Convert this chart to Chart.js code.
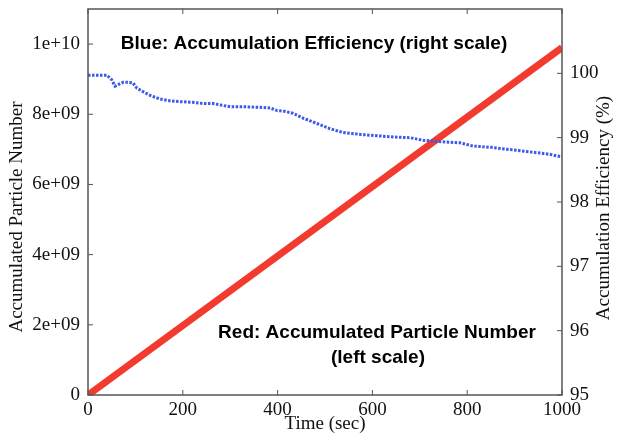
<!DOCTYPE html>
<html>
<head>
<meta charset="utf-8">
<script src="https://cdn.jsdelivr.net/npm/chart.js@4/dist/chart.umd.min.js"></script>
<style>
  html, body { margin: 0; padding: 0; background: #fff; }
  #wrap { width: 618px; height: 437px; }
</style>
</head>
<body>
<div id="wrap"><canvas id="chart"></canvas></div>
<script>
// accumulated particle number (left scale)
let redTime = [0, 1000];
let redCount = [0, 9.9e9];

// accumulation efficiency in % (right scale)
let blueTime = [0, 20, 40, 50, 57, 65, 74, 85, 95, 103, 115, 130, 152, 175, 194, 220, 245, 264, 285, 300,
  330, 369, 385, 399, 415, 432, 455, 483, 510, 538, 575, 610, 645, 679, 707, 740, 785, 812, 850, 884,
  920, 954, 975, 1000];
let blueEff = [99.97, 99.97, 99.97, 99.9, 99.8, 99.83, 99.86, 99.86, 99.85, 99.77, 99.72, 99.66, 99.6, 99.57,
  99.56, 99.55, 99.53, 99.53, 99.5, 99.48, 99.48, 99.47, 99.46, 99.42, 99.41, 99.38, 99.3, 99.22, 99.14,
  99.08, 99.05, 99.03, 99.01, 99.0, 98.96, 98.94, 98.92, 98.87, 98.85, 98.82, 98.79, 98.76, 98.74, 98.7];

let xTicks = [0, 200, 400, 600, 800, 1000];
let leftTicks = [0, 2e9, 4e9, 6e9, 8e9, 1e10];
let rightTicks = [95, 96, 97, 98, 99, 100];

let serif = '"Liberation Serif", "DejaVu Serif", serif';
let sans = '"Liberation Sans", Arial, sans-serif';

function sci(v){
  if (v === 0) return '0';
  let parts = v.toExponential().split('e+');
  return parts[0] + 'e+' + parts[1].padStart(2, '0');
}

function toPoints(xs, ys){
  let pts = [];
  for (let i = 0; i < xs.length; i++){
    pts.push({x: xs[i], y: ys[i]});
  }
  return pts;
}

// keep the plot box fixed: no extra room for half-labels at the ends
function noEndPadding(s){
  s.paddingTop = 0;
  s.paddingBottom = 0;
  s.paddingLeft = 0;
  s.paddingRight = 0;
}

// frame, inward tick marks, axis titles and the two notes
let decorations = {
  id: 'decorations',
  afterDraw(chart){
    let ctx = chart.ctx;
    let a = chart.chartArea;
    let sx = chart.scales.x, sl = chart.scales.y, sr = chart.scales.y1;
    ctx.save();
    ctx.strokeStyle = '#555';
    ctx.lineWidth = 1.5;
    ctx.strokeRect(a.left, a.top, a.right - a.left, a.bottom - a.top);

    ctx.lineWidth = 1;
    ctx.beginPath();
    xTicks.forEach(function(t){
      let px = sx.getPixelForValue(t);
      ctx.moveTo(px, a.bottom); ctx.lineTo(px, a.bottom - 5);
      ctx.moveTo(px, a.top); ctx.lineTo(px, a.top + 5);
    });
    leftTicks.forEach(function(t){
      let py = sl.getPixelForValue(t);
      ctx.moveTo(a.left, py); ctx.lineTo(a.left + 5, py);
    });
    rightTicks.forEach(function(t){
      let py = sr.getPixelForValue(t);
      ctx.moveTo(a.right, py); ctx.lineTo(a.right - 5, py);
    });
    ctx.stroke();

    ctx.fillStyle = '#111';
    ctx.font = '19px ' + serif;
    ctx.textAlign = 'center';
    ctx.textBaseline = 'middle';
    ctx.fillText('Time (sec)', (a.left + a.right) / 2, 424);

    ctx.save();
    ctx.translate(17, 217);
    ctx.rotate(-Math.PI / 2);
    ctx.fillText('Accumulated Particle Number', 0, 0);
    ctx.restore();

    ctx.save();
    ctx.translate(604, 208);
    ctx.rotate(-Math.PI / 2);
    ctx.fillText('Accumulation Efficiency (%)', 0, 0);
    ctx.restore();

    ctx.font = 'bold 19px ' + sans;
    ctx.fillStyle = '#000';
    ctx.fillText('Blue: Accumulation Efficiency (right scale)', 314, 44);
    ctx.fillText('Red: Accumulated Particle Number', 377, 333);
    ctx.fillText('(left scale)', 378, 358);
    ctx.restore();
  }
};

let myChart = new Chart(document.getElementById('chart'), {
  type: 'line',
  data: {
    datasets: [
      {
        label: 'Accumulation Efficiency',
        data: toPoints(blueTime, blueEff),
        yAxisID: 'y1',
        borderColor: '#3a5ae8',
        borderWidth: 3,
        borderDash: [2.5, 1.5],
        pointRadius: 0,
        tension: 0
      },
      {
        label: 'Accumulated Particle Number',
        data: toPoints(redTime, redCount),
        yAxisID: 'y',
        borderColor: '#f23a2f',
        borderWidth: 7,
        pointRadius: 0,
        tension: 0
      }
    ]
  },
  options: {
    responsive: true,
    maintainAspectRatio: false,
    animation: false,
    layout: { padding: { top: 9, left: 0, right: 0, bottom: 0 } },
    plugins: {
      legend: { display: false },
      tooltip: { enabled: false }
    },
    scales: {
      x: {
        type: 'linear',
        min: 0,
        max: 1000,
        afterFit: function(s){ s.height = 42; noEndPadding(s); },
        afterBuildTicks: function(s){ s.ticks = xTicks.map(function(v){ return {value: v}; }); },
        grid: { display: false, drawTicks: false },
        border: { display: false },
        ticks: {
          autoSkip: false,
          maxRotation: 0,
          padding: 4,
          color: '#111',
          font: { family: serif, size: 19 },
          callback: function(v){ return String(v); }
        }
      },
      y: {
        position: 'left',
        min: 0,
        max: 1.1e10,
        afterFit: function(s){ s.width = 88; noEndPadding(s); },
        afterBuildTicks: function(s){ s.ticks = leftTicks.map(function(v){ return {value: v}; }); },
        grid: { display: false, drawTicks: false },
        border: { display: false },
        ticks: {
          padding: 8,
          color: '#111',
          font: { family: serif, size: 19 },
          callback: function(v){ return sci(v); }
        }
      },
      y1: {
        position: 'right',
        min: 95,
        max: 101,
        afterFit: function(s){ s.width = 56; noEndPadding(s); },
        afterBuildTicks: function(s){ s.ticks = rightTicks.map(function(v){ return {value: v}; }); },
        grid: { display: false, drawTicks: false },
        border: { display: false },
        ticks: {
          padding: 8,
          color: '#111',
          font: { family: serif, size: 19 }
        }
      }
    }
  },
  plugins: [decorations]
});
</script>
</body>
</html>
